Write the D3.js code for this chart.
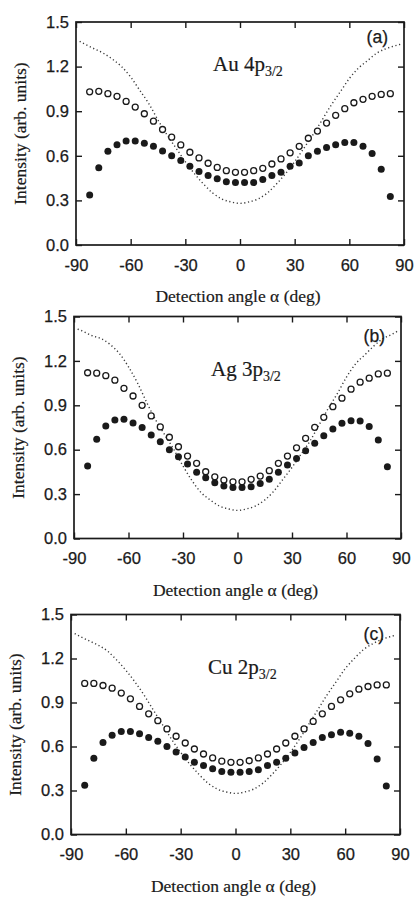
<!DOCTYPE html>
<html>
<head>
<meta charset="utf-8">
<script src="https://cdn.jsdelivr.net/npm/d3@7"></script>
<style>
  body { margin: 0; background: #fff; }
</style>
</head>
<body>
<svg id="chart" width="415" height="897"></svg>
<script>
// measured angles (deg) of the symbol series
const angles = [-82.5, -77.5, -72.5, -67.5, -62.5, -57.5, -52.5, -47.5, -42.5, -37.5, -32.5, -27.5,
  -22.5, -17.5, -12.5, -7.5, -2.5, 2.5, 7.5, 12.5, 17.5, 22.5, 27.5, 32.5, 37.5, 42.5, 47.5,
  52.5, 57.5, 62.5, 67.5, 72.5, 77.5, 82.5];

// angles of the dotted curve
const theoryAngles = [-88, -85, -80, -75, -70, -65, -60, -55, -50, -45, -40, -35, -30, -25, -20,
  -15, -10, -5, 0, 5, 10, 15, 20, 25, 30, 35, 40, 45, 50, 55, 60, 65, 70, 75, 80, 85, 88];

// (a) Au 4p3/2
const auFilled = [0.336, 0.52, 0.63, 0.675, 0.70, 0.70, 0.685, 0.665, 0.633, 0.60, 0.568, 0.53,
  0.495, 0.468, 0.446, 0.426, 0.42, 0.42, 0.42, 0.44, 0.468, 0.49, 0.53, 0.552, 0.60, 0.63,
  0.655, 0.675, 0.69, 0.69, 0.665, 0.615, 0.51, 0.327];
const auOpen = [1.03, 1.034, 1.018, 1.0, 0.966, 0.928, 0.883, 0.833, 0.777, 0.725, 0.673, 0.624,
  0.586, 0.55, 0.522, 0.5, 0.489, 0.489, 0.5, 0.516, 0.545, 0.579, 0.62, 0.664, 0.718, 0.766,
  0.82, 0.872, 0.917, 0.957, 0.98, 1.0, 1.013, 1.018];
const auTheory = [1.37, 1.35, 1.32, 1.29, 1.25, 1.20, 1.13, 1.04, 0.95, 0.84, 0.74, 0.65, 0.56,
  0.48, 0.41, 0.35, 0.31, 0.29, 0.28, 0.29, 0.31, 0.35, 0.41, 0.48, 0.56, 0.65, 0.74, 0.84,
  0.94, 1.03, 1.12, 1.19, 1.24, 1.29, 1.32, 1.34, 1.35];

// (b) Ag 3p3/2
const agFilled = [0.49, 0.67, 0.76, 0.80, 0.805, 0.78, 0.75, 0.70, 0.654, 0.60, 0.553, 0.503,
  0.447, 0.41, 0.377, 0.354, 0.345, 0.345, 0.35, 0.372, 0.40, 0.447, 0.496, 0.54, 0.593, 0.643,
  0.695, 0.74, 0.778, 0.796, 0.794, 0.756, 0.665, 0.485];
const agOpen = [1.12, 1.117, 1.10, 1.07, 1.015, 0.963, 0.90, 0.828, 0.754, 0.684, 0.62, 0.557,
  0.508, 0.451, 0.417, 0.395, 0.383, 0.383, 0.40, 0.422, 0.458, 0.508, 0.557, 0.613, 0.677,
  0.751, 0.819, 0.891, 0.948, 1.009, 1.056, 1.083, 1.112, 1.117];
const agTheory = [1.415, 1.40, 1.37, 1.35, 1.31, 1.25, 1.16, 1.05, 0.92, 0.80, 0.70, 0.60, 0.49,
  0.39, 0.31, 0.26, 0.22, 0.20, 0.19, 0.20, 0.22, 0.26, 0.32, 0.40, 0.48, 0.57, 0.66, 0.77,
  0.88, 0.98, 1.09, 1.18, 1.24, 1.30, 1.35, 1.38, 1.40];

// (c) Cu 2p3/2
const cuFilled = [0.335, 0.52, 0.628, 0.676, 0.703, 0.703, 0.687, 0.662, 0.635, 0.60, 0.562,
  0.528, 0.492, 0.47, 0.449, 0.43, 0.424, 0.424, 0.43, 0.442, 0.47, 0.492, 0.52, 0.556, 0.594,
  0.628, 0.662, 0.68, 0.698, 0.69, 0.67, 0.62, 0.515, 0.33];
const cuOpen = [1.03, 1.03, 1.016, 0.998, 0.964, 0.925, 0.873, 0.823, 0.776, 0.72, 0.67, 0.624,
  0.583, 0.549, 0.522, 0.5, 0.492, 0.492, 0.503, 0.522, 0.549, 0.583, 0.624, 0.67, 0.72, 0.771,
  0.823, 0.873, 0.918, 0.959, 0.991, 1.009, 1.02, 1.02];
const cuTheory = [1.37, 1.35, 1.32, 1.29, 1.25, 1.19, 1.12, 1.04, 0.95, 0.85, 0.75, 0.65, 0.56,
  0.48, 0.41, 0.35, 0.31, 0.29, 0.28, 0.29, 0.31, 0.35, 0.41, 0.48, 0.56, 0.65, 0.75, 0.85,
  0.95, 1.04, 1.13, 1.20, 1.26, 1.30, 1.33, 1.35, 1.36];

const xTicks = [-90, -60, -30, 0, 30, 60, 90];
const yTicks = [0.0, 0.3, 0.6, 0.9, 1.2, 1.5];
const panelTags = ["(a)", "(b)", "(c)"];
const elements = ["Au 4p", "Ag 3p", "Cu 2p"];
const subscripts = ["3/2", "3/2", "3/2"];
const xTitle = "Detection angle \u03b1 (deg)";
const yTitle = "Intensity (arb. units)";

// panel frames in page pixels
const panels = [
  { left: 76, right: 404, top: 22, bottom: 245, tagDy: 11, labelDy: 49,
    filled: auFilled, open: auOpen, theory: auTheory },
  { left: 74, right: 401, top: 316.5, bottom: 538.5, tagDy: 15, labelDy: 59.5,
    filled: agFilled, open: agOpen, theory: agTheory },
  { left: 71, right: 400, top: 614.5, bottom: 834.5, tagDy: 15, labelDy: 59.5,
    filled: cuFilled, open: cuOpen, theory: cuTheory }
];

const INK = "#1a1a1a";
const SANS = "'Liberation Sans', Arial, sans-serif";
const SERIF = "'Liberation Serif', 'Times New Roman', serif";

const svg = d3.select("#chart");

function styleAxis(a) {
  a.select(".domain").remove();
  a.selectAll(".tick line").attr("stroke", INK).attr("stroke-width", 1.4);
  a.selectAll(".tick text").attr("fill", INK).attr("stroke", INK).attr("stroke-width", 0.25);
  a.attr("font-family", SANS).attr("font-size", 16.5);
}

panels.forEach((p, i) => {
  const x = d3.scaleLinear().domain([-90, 90]).range([p.left, p.right]);
  const y = d3.scaleLinear().domain([0, 1.5]).range([p.bottom, p.top]);
  const g = svg.append("g");

  // dotted curve
  const line = d3.line().x(d => x(d[0])).y(d => y(d[1])).curve(d3.curveMonotoneX);
  g.append("path")
    .datum(d3.zip(theoryAngles, p.theory))
    .attr("d", line)
    .attr("fill", "none")
    .attr("stroke", "#3a3a3a")
    .attr("stroke-width", 1.4)
    .attr("stroke-dasharray", "1.2,2.6");

  // open circles
  g.selectAll("circle.open")
    .data(d3.zip(angles, p.open))
    .join("circle")
    .attr("class", "open")
    .attr("cx", d => x(d[0]))
    .attr("cy", d => y(d[1]))
    .attr("r", 3.0)
    .attr("fill", "#fff")
    .attr("stroke", INK)
    .attr("stroke-width", 1.3);

  // filled circles
  g.selectAll("circle.filled")
    .data(d3.zip(angles, p.filled))
    .join("circle")
    .attr("class", "filled")
    .attr("cx", d => x(d[0]))
    .attr("cy", d => y(d[1]))
    .attr("r", 3.5)
    .attr("fill", INK);

  // axes, ticks inward on all four sides
  g.append("g")
    .attr("transform", `translate(0,${p.bottom})`)
    .call(d3.axisBottom(x).tickValues(xTicks).tickSize(-6).tickSizeOuter(0)
      .tickPadding(14).tickFormat(d => String(d)))
    .call(styleAxis);
  g.append("g")
    .attr("transform", `translate(0,${p.top})`)
    .call(d3.axisTop(x).tickValues(xTicks).tickSize(-6).tickSizeOuter(0).tickFormat(""))
    .call(styleAxis);
  g.append("g")
    .attr("transform", `translate(${p.left},0)`)
    .call(d3.axisLeft(y).tickValues(yTicks).tickSize(-6).tickSizeOuter(0)
      .tickPadding(7).tickFormat(d3.format(".1f")))
    .call(styleAxis);
  g.append("g")
    .attr("transform", `translate(${p.right},0)`)
    .call(d3.axisRight(y).tickValues(yTicks).tickSize(-6).tickSizeOuter(0).tickFormat(""))
    .call(styleAxis);

  // frame
  g.append("rect")
    .attr("x", p.left).attr("y", p.top)
    .attr("width", p.right - p.left).attr("height", p.bottom - p.top)
    .attr("fill", "none").attr("stroke", INK).attr("stroke-width", 1.7);

  // panel tag
  g.append("text")
    .attr("x", p.right - 16).attr("y", p.top + p.tagDy + 10)
    .attr("text-anchor", "end")
    .attr("font-family", SANS).attr("font-size", 17.5).attr("fill", INK)
    .attr("stroke", INK).attr("stroke-width", 0.25)
    .text(panelTags[i]);

  // element label
  const lbl = g.append("text")
    .attr("x", p.left + 137).attr("y", p.top + p.labelDy)
    .attr("font-family", SERIF).attr("font-size", 21).attr("fill", INK)
    .attr("stroke", INK).attr("stroke-width", 0.2);
  lbl.append("tspan").text(elements[i]);
  lbl.append("tspan").attr("font-size", 14).attr("dy", 5).text(subscripts[i]);

  // axis titles
  g.append("text")
    .attr("x", (p.left + p.right) / 2 - 2).attr("y", p.bottom + 57)
    .attr("text-anchor", "middle")
    .attr("font-family", SERIF).attr("font-size", 17.5).attr("fill", INK)
    .attr("stroke", INK).attr("stroke-width", 0.2)
    .text(xTitle);
  g.append("text")
    .attr("transform", `translate(${p.left - 56},${(p.top + p.bottom) / 2}) rotate(-90)`)
    .attr("dy", "0.35em")
    .attr("text-anchor", "middle")
    .attr("font-family", SERIF).attr("font-size", 17.5).attr("fill", INK)
    .attr("stroke", INK).attr("stroke-width", 0.2)
    .text(yTitle);
});
</script>
</body>
</html>
